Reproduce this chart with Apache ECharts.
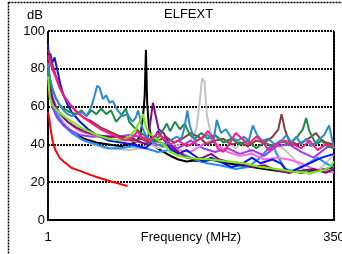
<!DOCTYPE html>
<html>
<head>
<meta charset="utf-8">
<script src="https://cdn.jsdelivr.net/npm/echarts@6/dist/echarts.min.js"></script>
<style>
html, body { margin: 0; padding: 0; background: #fff; }
#chart { width: 342px; height: 254px; }
</style>
</head>
<body>
<div id="chart"></div>
<script>
// ELFEXT curves, [frequency MHz, dB]
var xTicks = [1, 350];
var yTicks = [0, 20, 40, 60, 80, 100];

var redLine = [[1,57],[2,55],[3,52],[5,46],[7,41],[10,37],[15,33],[20,31],[30,27.5],[40,26],[52,24],[62,22.5],[73,21],[85,19.5],[98,18]];

var blackLine = [[1,80],[3,70],[6,63],[12,56],[20,51],[30,47],[45,43],[60,41],[75,40],[90,39],[100,40],[108,41],[114,45],[117,55],[119,66],[120.5,90],[122,62],[124,50],[128,42],[134,38],[142,36],[150,34],[160,32],[170,31],[180,31.5],[190,31],[200,32],[210,31],[220,30],[235,29],[250,28],[265,27],[280,26],[295,26],[310,25],[325,26],[340,27],[350,28]];

var grayLine = [[1,79],[3,70],[6,63],[12,57],[20,52],[30,47],[40,43],[55,40],[70,38],[85,37.5],[100,37],[115,38],[125,40],[135,38],[145,39],[155,40],[165,39],[175,42],[182,48],[186,62],[189,75],[192,73],[195,55],[200,45],[210,43],[220,41],[230,38],[240,42],[250,35],[260,33],[270,36],[280,40],[290,37],[300,33],[310,28],[320,24],[330,26],[340,30],[350,35]];

var dodgerLine = [[1,82],[3,72],[6,64],[12,56],[20,50],[30,46],[45,42],[60,40],[75,38],[90,38],[105,39],[120,38],[135,36],[150,37],[165,35],[180,32],[195,30],[210,29],[220,28],[230,27],[245,28],[260,33],[270,38],[275,40],[280,35],[290,27],[300,26],[315,29],[330,33],[340,30],[350,28]];

var violetLine = [[1,80],[3,68],[6,60],[12,54],[20,50],[30,47],[40,45],[55,44],[70,44.5],[85,44],[100,45],[115,44],[130,42],[145,40],[160,38],[175,42],[190,38],[205,36],[220,38],[235,35],[250,37],[265,34],[280,39],[295,40],[310,36],[325,33],[340,38],[350,40]];

var magentaLine = [[1,84],[3,74],[6,66],[12,59],[20,54],[30,50],[40,47],[55,45],[70,44],[85,44],[100,42],[115,41],[130,40],[145,39],[160,37],[175,36],[190,40],[200,42],[210,39],[220,36],[235,34],[250,35],[265,32],[280,33],[295,32],[310,30],[325,27],[340,26],[350,25]];

var blueLine = [[1,93],[2,85],[4,88],[6,83],[9,86],[12,80],[16,72],[20,66],[25,61],[30,57],[40,52],[50,48],[60,45],[75,42],[90,41],[105,40],[120,38],[130,42],[135,47],[140,44],[150,38],[160,35],[170,37],[180,34],[190,31],[200,33],[215,30],[225,28],[235,29],[250,33],[260,30],[275,32],[285,30],[295,25],[305,27],[320,30],[335,33],[350,35]];

var purpleLine = [[1,86],[3,74],[6,65],[10,60],[16,56],[25,52],[35,49],[45,47],[60,45],[75,44],[90,44],[105,43],[115,41],[122,40],[126,52],[129,62],[132,56],[136,48],[142,46],[150,40],[160,36],[170,33],[180,32],[190,33],[200,35],[210,32],[220,31],[235,30],[250,28],[265,29],[280,26],[295,25],[310,26],[325,27],[340,25],[350,27]];

var brownLine = [[1,90],[3,88],[6,83],[10,77],[15,71],[20,66],[28,61],[37,57],[45,54],[55,52],[65,49],[75,47],[85,45],[95,43],[105,42],[115,43],[125,41],[135,42],[145,44],[155,41],[165,43],[175,46],[185,44],[195,40],[205,42],[215,43],[225,40],[235,41],[245,39],[255,42],[265,41],[275,44],[282,48],[286,56],[290,48],[295,42],[305,40],[315,42],[322,44],[328,46],[333,43],[340,41],[350,40]];

var greenLine = [[1,80],[3,75],[6,70],[10,65],[15,61],[20,59],[28,57],[36,56],[42,58],[48,55],[54,58],[60,56],[66,59],[72,56],[78,58],[84,52],[90,55],[96,59],[100,52],[106,49],[112,47],[118,45],[124,43],[130,42],[136,44],[142,48],[146,51],[150,47],[156,52],[162,48],[168,51],[174,45],[180,43],[188,46],[196,43],[205,45],[215,41],[225,43],[235,40],[245,42],[255,38],[265,41],[275,39],[285,42],[295,40],[305,44],[312,48],[316,54],[320,47],[328,40],[335,42],[342,39],[350,38]];

var steelLine = [[1,83],[3,76],[6,70],[10,65],[15,61],[20,58],[25,56],[30,55],[36,56],[42,57],[48,55],[54,60],[58,66],[61,71],[64,70],[68,64],[72,66],[76,62],[80,63],[86,58],[92,55],[98,56],[104,52],[108,54],[111,58],[116,49],[120,45],[126,42],[134,40],[142,39],[150,42],[158,44],[164,43],[168,50],[171,58],[174,50],[180,42],[188,43],[196,45],[203,42],[207,53],[212,46],[218,48],[224,44],[232,42],[240,44],[246,42],[251,50],[256,45],[262,42],[270,43],[278,40],[286,42],[292,45],[298,41],[304,44],[310,40],[316,43],[322,39],[330,42],[338,45],[344,50],[347,44],[350,38]];

var limeLine = [[1,76],[3,65],[6,61],[12,58],[20,55],[30,52],[45,48],[60,45],[75,43],[90,42],[100,44],[108,48],[114,53],[117,56],[120,50],[124,46],[130,44],[136,42],[142,40],[150,36],[160,34],[170,33],[180,32.5],[200,32],[220,31],[240,30],[260,28],[280,27],[300,25.5],[320,25],[335,26],[345,28],[350,31]];

var pinkLine = [[1,87],[3,84],[6,80],[10,76],[15,70],[20,66],[28,61],[36,57],[45,54],[55,51],[65,48],[75,46],[85,44],[95,42],[105,44],[110,47],[115,44],[125,42],[135,46],[142,43],[150,40],[160,42],[170,39],[180,41],[190,44],[196,47],[202,44],[208,38],[215,36],[222,40],[230,46],[238,43],[245,40],[255,44],[262,42],[270,37],[280,40],[290,42],[300,40],[310,38],[320,42],[330,37],[340,40],[350,39]];

var curves = [
    { data: blackLine, color: '#000000' },
    { data: grayLine, color: '#c4c4c4' },
    { data: dodgerLine, color: '#1e8fff' },
    { data: violetLine, color: '#9a3cf0' },
    { data: magentaLine, color: '#ff66e0' },
    { data: blueLine, color: '#0a14f0' },
    { data: purpleLine, color: '#7f0a86' },
    { data: brownLine, color: '#8b3a3a' },
    { data: greenLine, color: '#1e8a46' },
    { data: steelLine, color: '#2a8cc8' },
    { data: limeLine, color: '#74f000' },
    { data: pinkLine, color: '#ff1a8c' },
    { data: redLine, color: '#ff0000' }
];

var font = "'Liberation Sans', Arial, sans-serif";
var dash = { color: '#000', width: 2, type: [2, 1] };

var series = curves.map(function(c) {
    return {
        type: 'line',
        data: c.data,
        showSymbol: false,
        lineStyle: { color: c.color, width: 2 },
        itemStyle: { color: c.color },
        animation: false,
        xAxisIndex: 0,
        yAxisIndex: 0
    };
});

var myChart = echarts.init(document.getElementById('chart'));
var option = {
    animation: false,
    title: {
        text: 'ELFEXT',
        left: 164,
        top: 8,
        padding: 0,
        textStyle: { fontFamily: font, fontSize: 13, fontWeight: 'normal', color: '#000' }
    },
    graphic: [{
        type: 'rect',
        shape: { x: 8.5, y: 2.5, width: 400, height: 300 },
        style: { fill: 'none', stroke: '#000', lineWidth: 1.5, lineDash: [2, 1] },
        silent: true
    }],
    grid: { left: 48, top: 31, width: 286, height: 189, containLabel: false, outerBoundsMode: 'none' },
    xAxis: [{
        type: 'value',
        min: 1,
        max: 350,
        name: 'Frequency (MHz)',
        nameLocation: 'middle',
        nameGap: 11,
        nameMoveOverlap: false,
        nameTextStyle: { fontFamily: font, fontSize: 13, color: '#000', verticalAlign: 'top' },
        axisLine: { show: true, lineStyle: dash },
        axisTick: { show: false },
        splitLine: { show: false },
        axisLabel: {
            customValues: xTicks,
            margin: 11,
            fontFamily: font, fontSize: 13, color: '#000'
        }
    }, {
        type: 'value',
        position: 'top',
        min: 1,
        max: 350,
        axisLine: { show: true, lineStyle: dash },
        axisTick: { show: false },
        axisLabel: { show: false },
        splitLine: { show: false }
    }],
    yAxis: [{
        type: 'value',
        min: 0,
        max: 100,
        interval: 20,
        name: 'dB',
        nameLocation: 'end',
        nameGap: 9,
        nameTextStyle: { fontFamily: font, fontSize: 13, color: '#000', align: 'right', padding: [0, 5, 0, 0] },
        axisLine: { show: true, lineStyle: dash },
        axisTick: { show: false },
        splitLine: { show: true, lineStyle: dash },
        axisLabel: {
            margin: 3,
            fontFamily: font, fontSize: 13, color: '#000',
            formatter: function(v) { return yTicks.indexOf(v) >= 0 ? String(v) : ''; }
        }
    }, {
        type: 'value',
        position: 'right',
        min: 0,
        max: 100,
        axisLine: { show: true, lineStyle: dash },
        axisTick: { show: false },
        axisLabel: { show: false },
        splitLine: { show: false }
    }],
    series: series
};
myChart.setOption(option);
</script>
</body>
</html>
